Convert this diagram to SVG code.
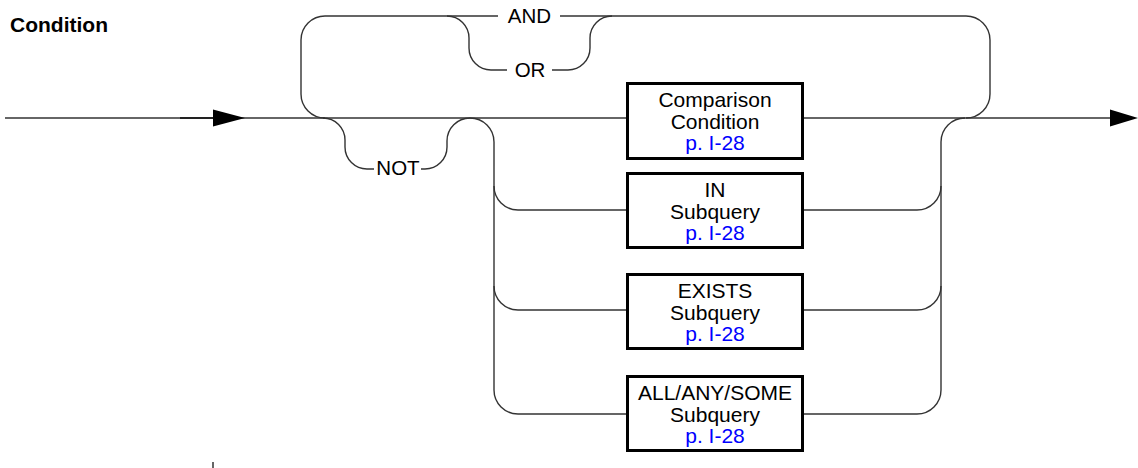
<svg xmlns="http://www.w3.org/2000/svg" width="1138" height="468" viewBox="0 0 1138 468">
<style>
.c{fill:none;stroke:#333;stroke-width:1.4}
.box{fill:#fff;stroke:#000;stroke-width:3}
.t{font-family:"Liberation Sans",Arial,sans-serif;font-size:21px;fill:#000;text-anchor:middle}
.k{font-family:"Liberation Sans",Arial,sans-serif;font-size:20.5px;fill:#000;text-anchor:middle}
.l{fill:#0000ff}
.title{font-family:"Liberation Sans",Arial,sans-serif;font-size:21px;font-weight:bold;fill:#000}
</style>
<text class="title" x="10" y="32">Condition</text>
<g id="connectors">
<path class="c" d="M5,118 H1112"/>
<path d="M180,118 H215" fill="none" stroke="#222" stroke-width="2.2"/>
<polygon points="213,109.5 245,118 213,126.5" fill="#000"/>
<polygon points="1110,109.5 1138,118 1110,126.5" fill="#000"/>
<path class="c" d="M325,118 A24,24 0 0 1 301,94 V40 A24,24 0 0 1 325,16 H498"/>
<path class="c" d="M560,16 H966 A24,24 0 0 1 990,40 V94 A24,24 0 0 1 966,118"/>
<path class="c" d="M447,16 A22,22 0 0 1 469,38 V48 A22,22 0 0 0 491,70 H507"/>
<path class="c" d="M552,70 H568 A22,22 0 0 0 590,48 V38 A22,22 0 0 1 612,16"/>
<path class="c" d="M323,118 A22,22 0 0 1 345,140 V147 A22,22 0 0 0 367,169 H374"/>
<path class="c" d="M421,169 H425 A22,22 0 0 0 447,147 V141 A23,23 0 0 1 470,118 A24,24 0 0 1 494,142 V390 A24,24 0 0 0 518,414 H626"/>
<path class="c" d="M494,186 A24,24 0 0 0 518,210 H626"/>
<path class="c" d="M494,286 A24,24 0 0 0 518,310 H626"/>
<path class="c" d="M804,210 H917 A24,24 0 0 0 941,186"/>
<path class="c" d="M804,310 H917 A24,24 0 0 0 941,286"/>
<path class="c" d="M804,414 H917 A24,24 0 0 0 941,390 V142 A24,24 0 0 1 965,118"/>
<path d="M213,462 V468" stroke="#666" stroke-width="2"/>
</g>
<g id="and"><text class="k" x="529.5" y="23">AND</text></g>
<g id="or"><text class="k" x="530" y="77">OR</text></g>
<g id="not"><text class="k" x="398" y="175">NOT</text></g>
<g id="comparison">
<rect class="box" x="627.5" y="83.5" width="175" height="75"/>
<text class="t" x="715" y="107">Comparison</text>
<text class="t" x="715" y="129">Condition</text>
<text class="t l" x="715" y="150">p. I-28</text>
</g>
<g id="in">
<rect class="box" x="627.5" y="173.5" width="175" height="74"/>
<text class="t" x="715" y="197">IN</text>
<text class="t" x="715" y="219">Subquery</text>
<text class="t l" x="715" y="240">p. I-28</text>
</g>
<g id="exists">
<rect class="box" x="627.5" y="274.5" width="175" height="74"/>
<text class="t" x="715" y="298">EXISTS</text>
<text class="t" x="715" y="320">Subquery</text>
<text class="t l" x="715" y="341">p. I-28</text>
</g>
<g id="allanysome">
<rect class="box" x="627.5" y="376.5" width="175" height="74"/>
<text class="t" x="715" y="400">ALL/ANY/SOME</text>
<text class="t" x="715" y="422">Subquery</text>
<text class="t l" x="715" y="443">p. I-28</text>
</g>
</svg>
